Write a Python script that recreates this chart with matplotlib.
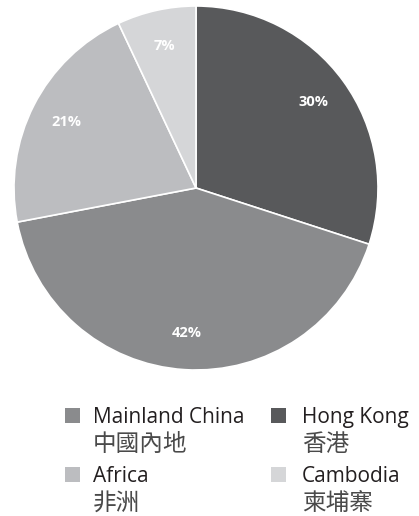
import matplotlib
matplotlib.use("Agg")
import matplotlib.pyplot as plt
from matplotlib.patches import Rectangle

# data
regions = ["Hong Kong", "Mainland China", "Africa", "Cambodia"]
regions_zh = ["香港", "中國內地", "非洲", "柬埔寨"]
shares = [30, 42, 21, 7]
colours = ["#58595b", "#8a8b8d", "#bcbdc0", "#d5d6d8"]

plt.rcParams['font.family'] = ['Open Sans', 'Noto Sans CJK TC', 'DejaVu Sans']

W, H = 419, 516
fig = plt.figure(figsize=(W / 100, H / 100), dpi=100)
ax = fig.add_axes([14 / W, 146 / H, 364 / W, 364 / H])

wedges, texts, autotexts = ax.pie(
    shares, colors=colours, startangle=90, counterclock=False,
    autopct='%d%%', pctdistance=0.8,
    wedgeprops=dict(edgecolor='white', linewidth=1.2))
for t in autotexts:
    t.set_color('white')
    t.set_fontsize(10.5)
    t.set_fontweight('bold')
ax.set_xlim(-1.0, 1.0)
ax.set_ylim(-1.0, 1.0)
ax.set_aspect('equal')

# legend drawn by hand, row-wise: Mainland China, Hong Kong / Africa, Cambodia
order = [1, 0, 2, 3]
box_x = [65, 271]
text_x = [93, 302]
row_top = [408, 467]
for k, i in enumerate(order):
    r, c = divmod(k, 2)
    fig.patches.append(Rectangle((box_x[c] / W, 1 - (row_top[r] + 15) / H),
                                 15 / W, 15 / H, transform=fig.transFigure,
                                 facecolor=colours[i], edgecolor='none'))
    fig.text(text_x[c] / W, 1 - (row_top[r] + 15) / H, regions[i],
             fontsize=15, color='#231f20', va='baseline', ha='left')
    # the reference uses a thin CJK face; a softer grey stands in for it
    fig.text(text_x[c] / W, 1 - (row_top[r] + 43) / H, regions_zh[i],
             fontsize=17, color='#4a4a4a',
             family=['Noto Sans CJK TC', 'DejaVu Sans'],
             va='baseline', ha='left')

fig.savefig("out.png", dpi=100)
